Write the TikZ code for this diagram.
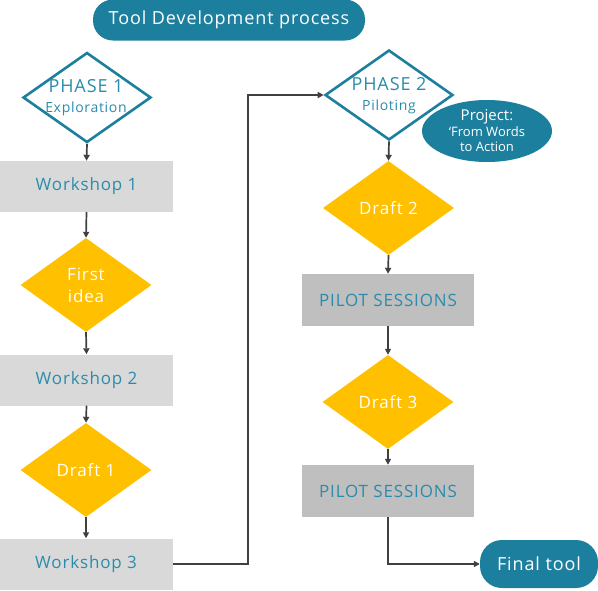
\documentclass[tikz,border=0pt]{standalone}
\usepackage{fontspec}
\setmainfont{Open Sans}[LetterSpace=5]
\usetikzlibrary{shapes.geometric,arrows.meta}
\definecolor{teal1}{HTML}{1D7F9E}
\definecolor{tealtxt}{HTML}{2A8CAC}
\definecolor{gold}{HTML}{FFC000}
\definecolor{lgray}{HTML}{D9D9D9}
\definecolor{mgray}{HTML}{BFBFBF}
\definecolor{arr}{HTML}{404040}
\tikzset{
  x=1pt,y=-1pt,
  pill/.style={fill=teal1,rounded corners=20pt,text=white,font=\fontsize{18}{20}\selectfont,inner sep=0pt},
  phase/.style={diamond,draw=teal1,line width=2.6pt,fill=white,minimum width=128pt,minimum height=90pt,inner sep=0pt},
  phasetxt/.style={text=tealtxt,align=center,inner sep=0pt,font=\fontsize{18}{20}\selectfont},
  golddia/.style={diamond,fill=gold,minimum width=131pt,minimum height=94pt,inner sep=0pt,text=white,align=center,font=\fontsize{17}{22}\selectfont},
  wbox/.style={fill=lgray,minimum width=173pt,minimum height=51pt,inner sep=0pt,text=tealtxt,font=\fontsize{17}{20}\selectfont},
  pbox/.style={fill=mgray,minimum width=172pt,minimum height=52pt,inner sep=0pt,text=tealtxt,font=\fontsize{17}{20}\selectfont},
  conn/.style={draw=arr,line width=1.7pt,-{Triangle[length=6pt,width=6pt]}}
}
\begin{document}
\begin{tikzpicture}
\useasboundingbox (0,0) rectangle (598,590);
\node[pill,minimum width=272pt,minimum height=41pt] (title) at (229,20) {Tool Development process};
\node[phase] (p1) at (87,97.5) {};
\node[phasetxt] (p1t) at (86,98) {PHASE 1\\{\fontsize{14}{16}\selectfont Exploration}};
\node[wbox] (w1) at (86.5,186.5) {Workshop 1};
\node[golddia] (fi) at (86,285) {First\\idea};
\node[wbox] (w2) at (86.5,380) {Workshop 2};
\node[golddia] (d1) at (86,470) {Draft 1};
\node[wbox] (w3) at (86,564) {Workshop 3};
\node[phase] (p2) at (389,95) {};
\node[phasetxt] (p2t) at (389,96) {PHASE 2\\{\fontsize{14}{16}\selectfont Piloting}};
\node[ellipse,fill=teal1,minimum width=130pt,minimum height=62pt,inner sep=0pt,text=white,align=center,font=\fontsize{13}{15.5}\selectfont\addfontfeature{LetterSpace=0}] (proj) at (487,131) {{\fontsize{15}{17}\selectfont Project:}\\‘From Words\\to Action};
\node[golddia] (d2) at (388.5,208) {Draft 2};
\node[pbox] (ps1) at (388,300) {PILOT SESSIONS};
\node[golddia] (d3) at (388,402) {Draft 3};
\node[pbox] (ps2) at (388,491) {PILOT SESSIONS};
\node[pill,minimum width=118pt,minimum height=48pt,rounded corners=22pt] (ft) at (539,564) {Final tool};
\coordinate (c1) at (248,564);
\coordinate (c2) at (248,95);
\coordinate (c3) at (388,564);
\draw[conn] (p1.south) -- (w1.north);
\draw[conn] (w1.south) -- (fi.north);
\draw[conn] (fi.south) -- (w2.north);
\draw[conn] (w2.south) -- (d1.north);
\draw[conn] (d1.south) -- (w3.north);
\draw[conn] (w3.east) -- (c1) -- (c2) -- (p2.west);
\draw[conn] (p2.south) -- (d2.north);
\draw[conn] (d2.south) -- (ps1.north);
\draw[conn] (ps1.south) -- (d3.north);
\draw[conn] (d3.south) -- (ps2.north);
\draw[conn] (ps2.south) -- (c3) -- (ft.west);
\end{tikzpicture}
\end{document}
